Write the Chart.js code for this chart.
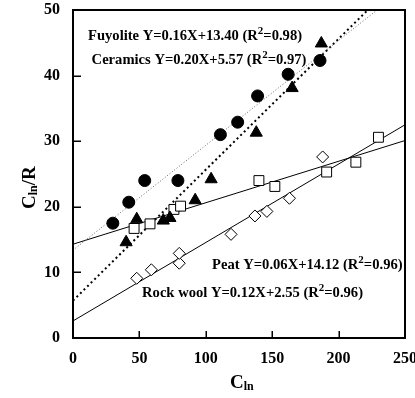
<!DOCTYPE html>
<html>
<head>
<meta charset="utf-8">
<script src="https://cdn.jsdelivr.net/npm/chart.js@4"></script>
<style>
  html, body { margin: 0; padding: 0; background: #fff; }
  #wrap { width: 415px; height: 398px; }
</style>
</head>
<body>
<div id="wrap"><canvas id="myChart" width="415" height="398"></canvas></div>
<script>
// measured points
var fuyoliteX = [30, 42, 54, 79, 111, 124, 139, 162, 186];
var fuyoliteY = [17.5, 20.7, 24.0, 24.0, 31.0, 32.9, 36.9, 40.2, 42.3];
var ceramicsX = [40, 48, 68, 73, 92, 104, 138, 165, 187];
var ceramicsY = [14.6, 18.1, 17.9, 18.3, 21.0, 24.2, 31.3, 38.1, 44.9];
var peatX = [46, 58, 76, 81, 140, 152, 191, 213, 230];
var peatY = [16.7, 17.4, 19.6, 20.1, 24.0, 23.1, 25.3, 26.8, 30.6];
var rockX = [48, 59, 80, 80, 119, 137, 146, 163, 188];
var rockY = [9.1, 10.4, 11.4, 12.9, 15.8, 18.6, 19.3, 21.3, 27.6];

// regression lines (end points)
var fuyoliteFitX = [0, 229];
var fuyoliteFitY = [13.4, 50];
var ceramicsFitX = [0, 222];
var ceramicsFitY = [5.7, 50];
var peatFitX = [0, 250];
var peatFitY = [14.3, 30.1];
var rockFitX = [0, 250];
var rockFitY = [2.6, 32.5];

var xTicks = [0, 50, 100, 150, 200, 250];
var yTicks = [0, 10, 20, 30, 40, 50];

// equation labels: [before superscript, superscript, after]
var eqFuyolite = ['Fuyolite Y=0.16X+13.40 (R', '2', '=0.98)'];
var eqCeramics = ['Ceramics Y=0.20X+5.57 (R', '2', '=0.97)'];
var eqPeat = ['Peat Y=0.06X+14.12 (R', '2', '=0.96)'];
var eqRock = ['Rock wool Y=0.12X+2.55 (R', '2', '=0.96)'];

function pts(xs, ys) {
  return xs.map(function(x, i) { return {x: x, y: ys[i]}; });
}

var serif = '"Liberation Serif", "Times New Roman", serif';

function fitLine(xs, ys, dash, width, color) {
  return {
    data: pts(xs, ys),
    showLine: true,
    pointRadius: 0,
    borderColor: color,
    borderWidth: width,
    borderDash: dash,
    fill: false,
    order: 5
  };
}

function markers(xs, ys, style, r, bg) {
  return {
    data: pts(xs, ys),
    showLine: false,
    pointStyle: style,
    pointRadius: r,
    pointBackgroundColor: bg,
    pointBorderColor: '#000',
    pointBorderWidth: 1,
    order: 0
  };
}

function drawEq(ctx, parts, x, y) {
  ctx.font = 'bold 14.6px ' + serif;
  ctx.fillText(parts[0], x, y);
  var w = ctx.measureText(parts[0]).width;
  ctx.font = 'bold 11px ' + serif;
  ctx.fillText(parts[1], x + w, y - 5);
  var w2 = ctx.measureText(parts[1]).width;
  ctx.font = 'bold 14.6px ' + serif;
  ctx.fillText(parts[2], x + w + w2, y);
}

function drawCln(ctx, x, y) {
  ctx.font = 'bold 19px ' + serif;
  ctx.fillText('C', x, y);
  var w = ctx.measureText('C').width;
  ctx.font = 'bold 12px ' + serif;
  ctx.fillText('ln', x + w, y + 4);
  return w + ctx.measureText('ln').width;
}

// box, inner ticks, tick labels, equations, axis titles
var framePlugin = {
  id: 'frame',
  afterDraw: function(chart) {
    var ctx = chart.ctx;
    var xs = chart.scales.x, ys = chart.scales.y;
    var L = Math.round(xs.getPixelForValue(0)), R = Math.round(xs.getPixelForValue(250));
    var T = Math.round(ys.getPixelForValue(50)), B = Math.round(ys.getPixelForValue(0));
    ctx.save();
    ctx.fillStyle = '#000';
    // frame as filled strips
    ctx.fillRect(L - 1, T - 1, R - L + 2, 2);
    ctx.fillRect(L - 1, B - 1, R - L + 2, 2);
    ctx.fillRect(L - 1, T - 1, 2, B - T + 2);
    ctx.fillRect(R - 1, T - 1, 2, B - T + 2);
    xTicks.slice(1, -1).forEach(function(v) {
      var p = Math.round(xs.getPixelForValue(v));
      ctx.fillRect(p - 0.5, B - 7, 1.5, 7);
    });
    yTicks.slice(1, -1).forEach(function(v) {
      var p = Math.round(ys.getPixelForValue(v));
      ctx.fillRect(L, p - 0.5, 8, 1.5);
    });

    // tick labels
    ctx.font = 'bold 16px ' + serif;
    ctx.textBaseline = 'middle';
    ctx.textAlign = 'center';
    xTicks.forEach(function(v) {
      ctx.fillText(String(v), xs.getPixelForValue(v), B + 21);
    });
    ctx.textAlign = 'right';
    yTicks.forEach(function(v) {
      ctx.fillText(String(v), L - 13, ys.getPixelForValue(v));
    });

    ctx.textAlign = 'left';
    drawEq(ctx, eqFuyolite, xs.getPixelForValue(11.3), ys.getPixelForValue(46));
    drawEq(ctx, eqCeramics, xs.getPixelForValue(14), ys.getPixelForValue(42.3));
    drawEq(ctx, eqPeat, xs.getPixelForValue(104.7), ys.getPixelForValue(11.1));
    drawEq(ctx, eqRock, xs.getPixelForValue(52), ys.getPixelForValue(6.9));

    // axis titles
    drawCln(ctx, 230, 383);
    ctx.translate(30, 187);
    ctx.rotate(-Math.PI / 2);
    var w = drawCln(ctx, -22, 0);
    ctx.font = 'bold 19px ' + serif;
    ctx.fillText('/R', -22 + w, 0);
    ctx.restore();
  }
};

var ctx = document.getElementById('myChart').getContext('2d');
var myChart = new Chart(ctx, {
  type: 'scatter',
  data: {
    datasets: [
      fitLine(fuyoliteFitX, fuyoliteFitY, [1, 2], 1, '#666'),
      fitLine(ceramicsFitX, ceramicsFitY, [2, 3], 2, '#000'),
      fitLine(peatFitX, peatFitY, [], 1, '#000'),
      fitLine(rockFitX, rockFitY, [], 1, '#000'),
      markers(fuyoliteX, fuyoliteY, 'circle', 6, '#000'),
      markers(ceramicsX, ceramicsY, 'triangle', 7, '#000'),
      markers(peatX, peatY, 'rect', 7, '#fff'),
      markers(rockX, rockY, 'rectRot', 6, '#fff')
    ]
  },
  options: {
    responsive: false,
    animation: false,
    layout: { padding: { top: 10, right: 10, left: 0, bottom: 0 } },
    plugins: { legend: { display: false }, tooltip: { enabled: false } },
    scales: {
      x: {
        type: 'linear', min: 0, max: 250,
        afterBuildTicks: function(s) { s.ticks = xTicks.map(function(v) { return {value: v}; }); },
        afterFit: function(s) { s.height = 60; },
        grid: { display: false, drawTicks: false },
        border: { display: false },
        ticks: { display: false }
      },
      y: {
        type: 'linear', min: 0, max: 50,
        afterBuildTicks: function(s) { s.ticks = yTicks.map(function(v) { return {value: v}; }); },
        afterFit: function(s) { s.width = 73; },
        grid: { display: false, drawTicks: false },
        border: { display: false },
        ticks: { display: false }
      }
    }
  },
  plugins: [framePlugin]
});
</script>
</body>
</html>
